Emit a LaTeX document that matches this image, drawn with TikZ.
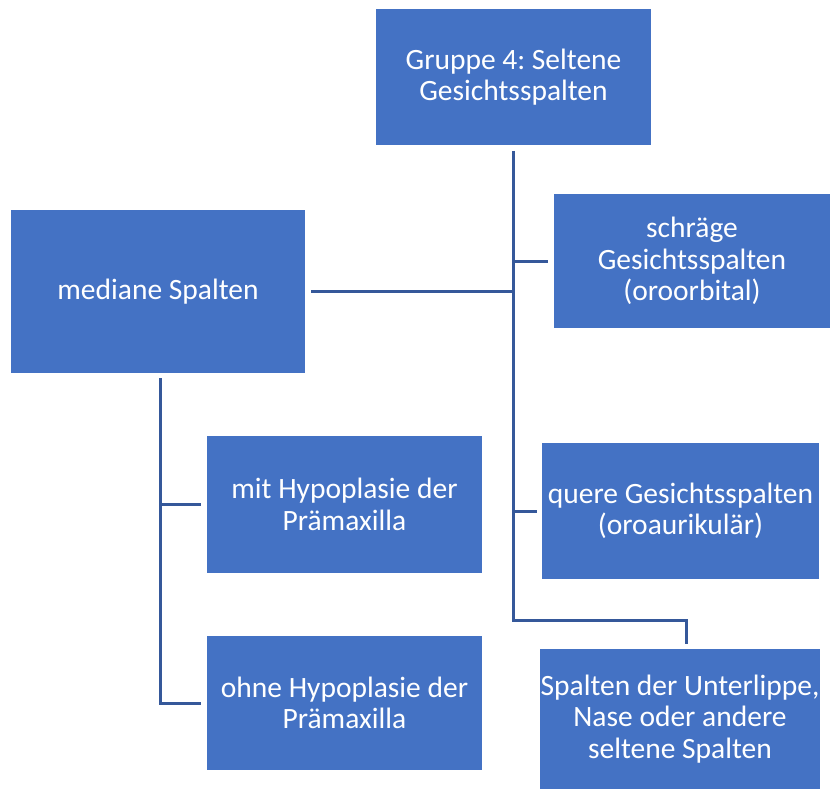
\documentclass[tikz,border=0pt]{standalone}
\usepackage{fontspec}
\setmainfont{Carlito}
\frenchspacing
\definecolor{boxblue}{HTML}{4472C4}
\definecolor{lineblue}{HTML}{35589A}
\begin{document}
\begin{tikzpicture}[x=1pt,y=-1pt,
  box/.style={rectangle, fill=boxblue, text=white, inner sep=0pt, align=center,
    font=\fontsize{29.5}{31.5}\selectfont},
  conn/.style={draw=lineblue, line width=3pt}]
\useasboundingbox (0,0) rectangle (830,789);
\node[box, minimum width=275pt, minimum height=136pt] (top) at (513.5,77) {Gruppe 4: Seltene\\Gesichtsspalten};
\node[box, minimum width=294pt, minimum height=163pt] (mediane) at (158,291.5) {mediane Spalten};
\node[box, minimum width=276pt, minimum height=134pt] (schraege) at (692,261) {schräge\\Gesichtsspalten\\(oroorbital)};
\node[box, minimum width=275pt, minimum height=137pt] (mit) at (344.5,504.5) {mit Hypoplasie der\\Prämaxilla};
\node[box, minimum width=277pt, minimum height=136pt] (quere) at (680.5,511) {quere Gesichtsspalten\\(oroaurikulär)};
\node[box, minimum width=275pt, minimum height=134pt] (ohne) at (344.5,703) {ohne Hypoplasie der\\Prämaxilla};
\node[box, minimum width=280pt, minimum height=140pt] (spalten) at (680,719) {Spalten der Unterlippe,\\Nase oder andere\\seltene Spalten};
% right spine
\coordinate (t0) at (513,151);
\coordinate (t1) at (513,620);
\coordinate (t2) at (686,620);
\coordinate (t3) at (686,644);
\draw[conn] (t0) -- (t1) -- (t2) -- (t3);
\draw[conn, shorten >=6pt] (schraege.west -| t0) -- (schraege.west);
\draw[conn, shorten <=6pt] (mediane.east) -- (mediane.east -| t0);
\draw[conn, shorten >=5pt] (quere.west -| t0) -- (quere.west);
% left spine
\coordinate (m0) at (160,378);
\draw[conn] (m0) |- ([xshift=-6pt]ohne.west);
\draw[conn, shorten >=6pt] (mit.west -| m0) -- (mit.west);
\end{tikzpicture}
\end{document}
